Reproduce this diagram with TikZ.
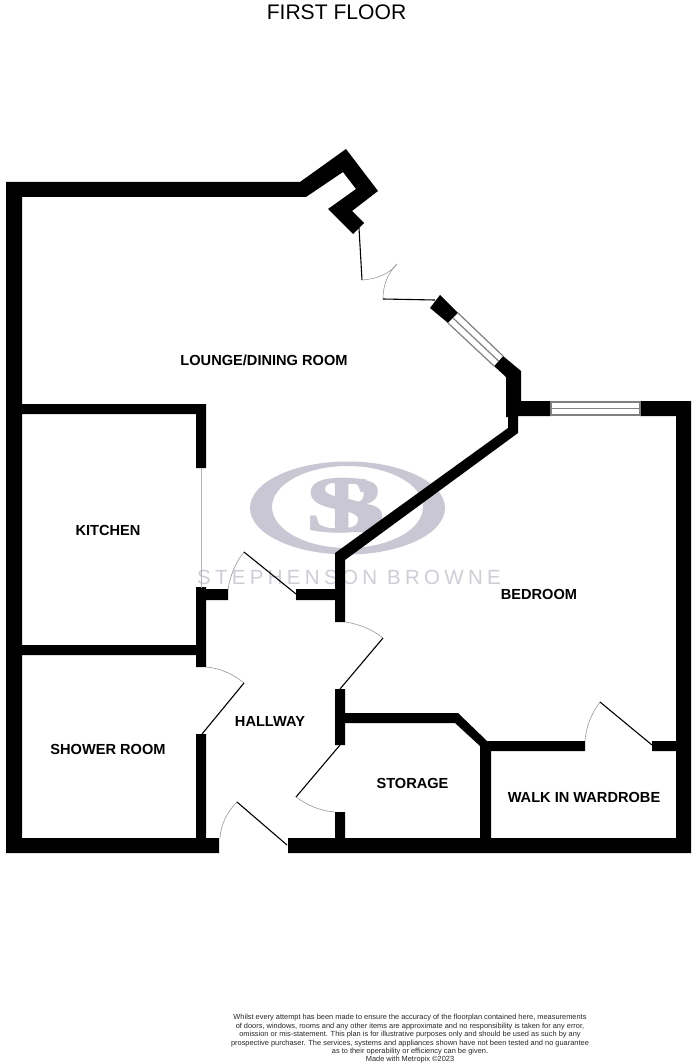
\documentclass[tikz,border=0pt]{standalone}
\usepackage{fontspec}
\setmainfont{Liberation Sans}
\newfontfamily\wmserif{Liberation Serif}
\definecolor{wm}{HTML}{C9C7D3}
\definecolor{wmt}{HTML}{CFCDD6}
\tikzset{
  x=1pt,y=-1pt,
  wall/.style={fill=black,draw=none},
  leaf/.style={draw=black,line width=1.1pt},
  swing/.style={draw=gray!80,line width=0.6pt},
  glass/.style={draw=gray,line width=1.2pt,fill=white},
  room/.style={font=\bfseries\fontsize{14.6}{16}\selectfont,text=black,inner sep=0pt},
}
\begin{document}
\begin{tikzpicture}
\useasboundingbox (0,0) rectangle (696,1064);
\fill[white] (0,0) rectangle (696,1064);
% watermark
\fill[wm,even odd rule] (347.5,508) ellipse [x radius=97.5,y radius=46.5] (347.5,507) ellipse [x radius=75.5,y radius=41];
\node[font=\wmserif\bfseries\fontsize{82}{82}\selectfont,text=wm,inner sep=0pt,xscale=1.65] (wms) at (341,506) {S};
\node[font=\wmserif\bfseries\fontsize{80}{80}\selectfont,text=wm,inner sep=0pt,xscale=1.1] (wmb) at (356,506) {B};
\node[font=\fontsize{20.5}{22}\selectfont,text=wmt,inner sep=0pt] (wmtext) at (349,577) {\addfontfeature{LetterSpace=21}STEPHENSON BROWNE};
% walls
\fill[wall] (6,182) -- (300,182) -- (346,149) -- (378,191) -- (352,211) -- (364,223) -- (353,234) -- (328,209) -- (356,189) -- (343,172) -- (306,197) -- (22,197) -- (22,404) -- (206,404) -- (206,468) -- (196,468) -- (196,414) -- (22,414) -- (22,645) -- (196,645) -- (196,587) -- (206,587) -- (206,589) -- (228,589) -- (228,600) -- (206,600) -- (206,667) -- (196,667) -- (196,655) -- (22,655) -- (22,838) -- (196,838) -- (196,734) -- (206,734) -- (206,838) -- (219,838) -- (219,853) -- (6,853) -- cycle;
\fill[wall] (288,838) -- (335,838) -- (335,812) -- (345,812) -- (345,838) -- (480,838) -- (480,746) -- (455,723) -- (345,723) -- (345,745) -- (335,745) -- (335,689) -- (345,689) -- (345,713) -- (458,713) -- (487,741) -- (585,741) -- (585,751) -- (491,751) -- (491,838) -- (676,838) -- (676,751) -- (652,751) -- (652,741) -- (676,741) -- (676,416) -- (640,416) -- (640,401) -- (691,401) -- (691,853) -- (288,853) -- cycle;
\fill[wall] (440,295) -- (458,313) -- (448,323) -- (430,308) -- cycle;
\fill[wall] (503,356) -- (521,371) -- (521,401) -- (551,401) -- (551,416) -- (518,416) -- (518,433) -- (345,560) -- (345,622) -- (335,622) -- (335,600) -- (296,600) -- (296,589) -- (335,589) -- (335,553) -- (508,428) -- (508,417) -- (506,417) -- (506,377) -- (494,366) -- cycle;
% windows
\path[glass] (551,402) rectangle (640,415);
\draw[gray,line width=1.2pt] (551,408.5) -- (640,408.5);
\path[fill=white] (458,313) -- (503,356) -- (494,366) -- (448,323) -- cycle;
\draw[gray,line width=1.2pt] (458,313) -- (503,356) (453,318) -- (498.5,361) (448,323) -- (494,366);
% kitchen opening
\draw[gray!60,line width=0.7pt] (201,468) -- (201,588);
% doors
\draw[leaf] (359,228) -- (362,280);
\draw[swing] (362,280) .. controls (378,279) and (390,273) .. (397,264);
\draw[swing] (397,264) .. controls (387,274) and (383,286) .. (383,299);
\draw[leaf] (383,299) -- (435,300);
\draw[swing] (228,590) .. controls (230,575) and (236,562) .. (244,552);
\draw[leaf] (244,552) -- (296,594);
\draw[swing] (345,622) .. controls (360,624) and (373,630) .. (383,638);
\draw[leaf] (383,638) -- (340,689);
\draw[swing] (206,667) .. controls (220,668) and (233,674) .. (244,683);
\draw[leaf] (244,683) -- (202,734);
\draw[leaf] (340,745) -- (296,797);
\draw[swing] (296,797) .. controls (307,805) and (320,811) .. (335,812);
\draw[swing] (220,838) .. controls (221,824) and (227,812) .. (237,802);
\draw[leaf] (237,802) -- (287,845);
\draw[swing] (585,741) .. controls (586,727) and (591,714) .. (600,702);
\draw[leaf] (600,702) -- (652,745);
% labels
\node[font=\fontsize{21.1}{23}\selectfont,inner sep=0pt] (title) at (336.5,12) {FIRST FLOOR};
\node[room] (lounge) at (264,360) {LOUNGE/DINING ROOM};
\node[room] (kitchen) at (108,530) {KITCHEN};
\node[room] (bedroom) at (539,594) {BEDROOM};
\node[room] (hallway) at (270,721) {HALLWAY};
\node[room] (shower) at (108,749) {SHOWER ROOM};
\node[room] (storage) at (412.5,783) {STORAGE};
\node[room] (wardrobe) at (584,797) {WALK IN WARDROBE};
\node[font=\fontsize{7.42}{8.4}\selectfont,align=center,inner sep=0pt,text=black!85] (note) at (410,1039) {Whilst every attempt has been made to ensure the accuracy of the floorplan contained here, measurements\\of doors, windows, rooms and any other items are approximate and no responsibility is taken for any error,\\omission or mis-statement. This plan is for illustrative purposes only and should be used as such by any\\prospective purchaser. The services, systems and appliances shown have not been tested and no guarantee\\as to their operability or efficiency can be given.\\Made with Metropix ©2023};
\end{tikzpicture}
\end{document}
